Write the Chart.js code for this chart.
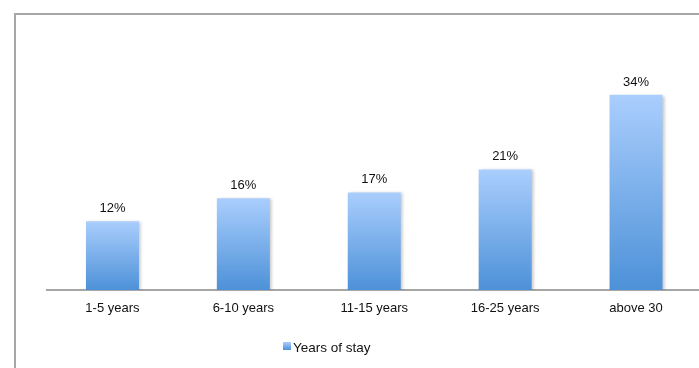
<!DOCTYPE html>
<html>
<head>
<meta charset="utf-8">
<script src="https://cdn.jsdelivr.net/npm/chart.js@4"></script>
<style>
  html, body { margin: 0; padding: 0; background: #fff; overflow: hidden; }
  #frame {
    position: absolute; left: 14px; top: 13px; right: -10px; bottom: -10px;
    border-left: 2px solid #a6a6a6; border-top: 2px solid #a6a6a6;
  }
  #canvas { position: absolute; left: 0; top: 0; }
</style>
</head>
<body>
<div id="frame"></div>
<canvas id="canvas" width="703" height="368"></canvas>
<script>
const categories = ['1-5 years', '6-10 years', '11-15 years', '16-25 years', 'above 30'];
const stay = [12, 16, 17, 21, 34];
const seriesName = 'Years of stay';

const topColor = '#aacefd';
const bottomColor = '#4d91d8';

function barGradient(c) {
  const chart = c.chart;
  if (!chart.chartArea) return bottomColor;
  const y = chart.scales.y;
  const top = y.getPixelForValue(c.raw);
  const base = y.getPixelForValue(0);
  const g = chart.ctx.createLinearGradient(0, top, 0, base);
  g.addColorStop(0, topColor);
  g.addColorStop(1, bottomColor);
  return g;
}

// soft shadow behind the bars
const barShadow = {
  id: 'barShadow',
  beforeDatasetsDraw(chart) {
    const ctx = chart.ctx;
    ctx.save();
    ctx.shadowColor = 'rgba(0,0,0,0.22)';
    ctx.shadowBlur = 3;
    ctx.shadowOffsetX = 2;
    ctx.shadowOffsetY = 1;
  },
  afterDatasetsDraw(chart) {
    chart.ctx.restore();
  }
};

// percentage above each bar
const valueLabels = {
  id: 'valueLabels',
  afterDatasetsDraw(chart) {
    const ctx = chart.ctx;
    const meta = chart.getDatasetMeta(0);
    ctx.save();
    ctx.font = '13px "Liberation Sans", Arial, sans-serif';
    ctx.fillStyle = '#111';
    ctx.textAlign = 'center';
    ctx.textBaseline = 'alphabetic';
    meta.data.forEach((bar, i) => {
      ctx.fillText(stay[i] + '%', bar.x, bar.y - 9);
    });
    ctx.restore();
  }
};

// single legend entry under the axis
const legendEntry = {
  id: 'legendEntry',
  afterDraw(chart) {
    const ctx = chart.ctx;
    const x = 283, y = 342;
    ctx.save();
    const g = ctx.createLinearGradient(0, y, 0, y + 8);
    g.addColorStop(0, topColor);
    g.addColorStop(1, bottomColor);
    ctx.fillStyle = g;
    ctx.fillRect(x, y, 8, 8);
    ctx.font = '13.5px "Liberation Sans", Arial, sans-serif';
    ctx.fillStyle = '#111';
    ctx.textAlign = 'left';
    ctx.textBaseline = 'middle';
    ctx.fillText(seriesName, x + 10, y + 6);
    ctx.restore();
  }
};

const ctx = document.getElementById('canvas').getContext('2d');

const myChart = new Chart(ctx, {
  type: 'bar',
  data: {
    labels: categories,
    datasets: [{
      label: seriesName,
      data: stay,
      backgroundColor: barGradient,
      borderWidth: 0,
      barPercentage: 0.405,
      categoryPercentage: 1
    }]
  },
  options: {
    responsive: false,
    animation: false,
    layout: { padding: { left: 47, right: 1.5, top: 30, bottom: 40.4 } },
    scales: {
      y: {
        display: false,
        min: 0,
        max: 45.3
      },
      x: {
        grid: { display: false, drawTicks: false },
        border: { display: true, color: '#a6a6a6', width: 2 },
        ticks: {
          padding: 11,
          color: '#111',
          font: { family: '"Liberation Sans", Arial, sans-serif', size: 13 }
        }
      }
    },
    plugins: {
      legend: { display: false },
      tooltip: { enabled: false }
    }
  },
  plugins: [barShadow, valueLabels, legendEntry]
});
</script>
</body>
</html>
